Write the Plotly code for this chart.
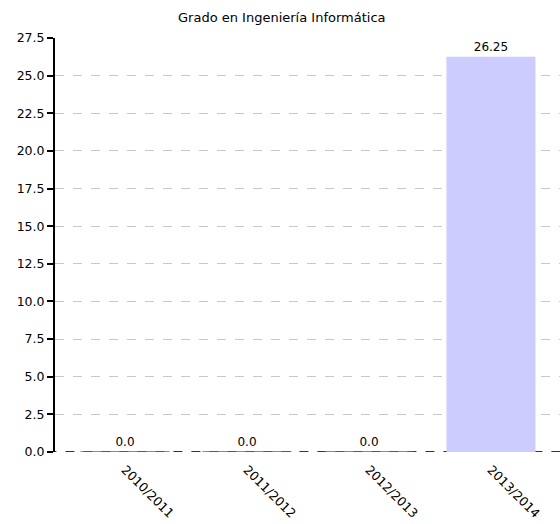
import plotly.graph_objects as go

categories = ["2010/2011", "2011/2012", "2012/2013", "2013/2014"]
values = [0.0, 0.0, 0.0, 26.25]
value_labels = ["0.0", "0.0", "0.0", "26.25"]
y_ticks = [0.0, 2.5, 5.0, 7.5, 10.0, 12.5, 15.0, 17.5, 20.0, 22.5, 25.0, 27.5]
subtitle = "Grado en Ingeniería Informática"

line_colors = ["#5555dd" if v == 0 else "rgba(0,0,0,0)" for v in values]

fig = go.Figure()
fig.add_trace(go.Bar(
    x=list(range(len(categories))),
    y=values,
    text=value_labels,
    textposition="outside",
    cliponaxis=False,
    textfont=dict(family="DejaVu Sans", size=12, color="#000000"),
    marker=dict(color="#ccccff", line=dict(color=line_colors, width=1.5)),
    width=0.73,
    showlegend=False,
))

plot_h = 524 - 38 - 72
plot_w = 560 - 55

fig.update_layout(
    width=560, height=524,
    margin=dict(l=55, r=0, t=38, b=72, autoexpand=False),
    plot_bgcolor="white", paper_bgcolor="white",
    font=dict(family="DejaVu Sans", size=12, color="#000000"),
    annotations=[
        dict(text=subtitle, x=(282 - 55) / plot_w, xref="paper",
             y=(452 - 17) / plot_h, yref="paper", yanchor="middle",
             showarrow=False, font=dict(size=13)),
    ],
    shapes=[
        dict(type="line", xref="paper", x0=-0.015, x1=1, yref="y", y0=0, y1=0,
             line=dict(color="#333333", width=2, dash="dash"), layer="below"),
    ],
)

fig.update_xaxes(
    tickmode="array",
    tickvals=list(range(len(categories))),
    ticktext=categories,
    tickangle=45,
    range=[-0.574, 3.566],
    showgrid=False,
    showline=False,
    zeroline=False,
    ticks="",
    ticklabelstandoff=7,
    automargin=False,
    tickfont=dict(size=12.5),
)
fig.update_yaxes(
    range=[0, 27.5],
    tickvals=y_ticks,
    tickformat=".1f",
    showgrid=True,
    gridcolor="#c8c8c8",
    griddash="dash",
    gridwidth=1,
    zeroline=False,
    showline=True,
    linecolor="#000000",
    linewidth=2,
    ticks="outside",
    ticklen=6,
    tickwidth=2,
    tickcolor="#000000",
    automargin=False,
    tickfont=dict(size=12.5),
)

fig.write_html(
    "out.html",
    config={"displayModeBar": False},
    post_script="document.body.style.margin='0';document.body.style.overflow='hidden';",
)
